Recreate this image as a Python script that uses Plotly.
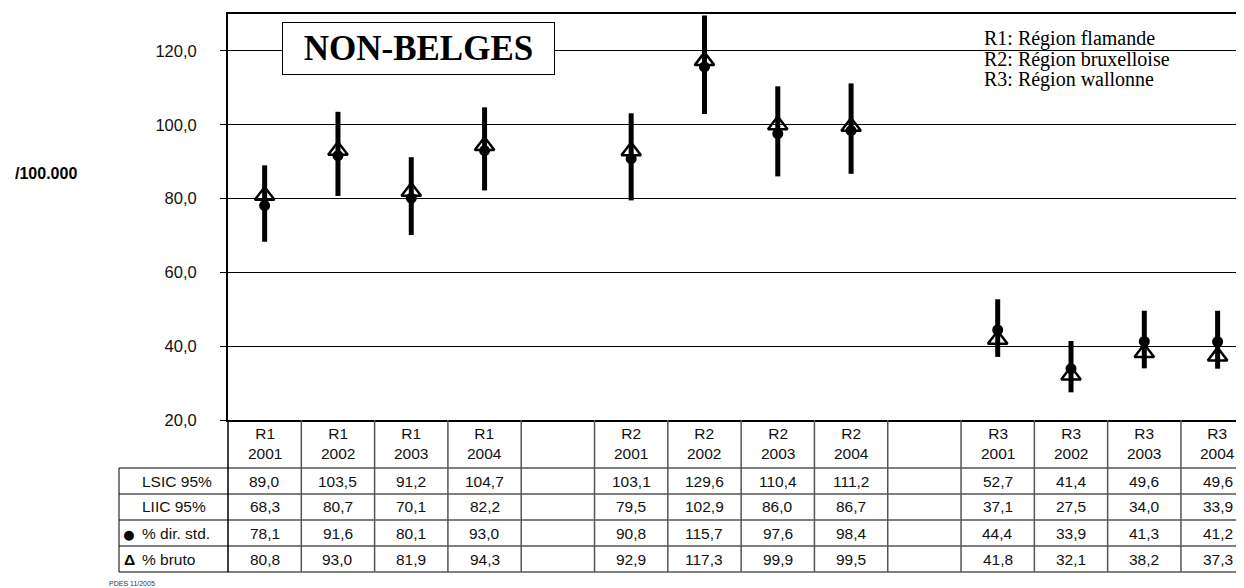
import plotly.graph_objects as go

# ---------------- data ----------------
regions = ["R1", "R1", "R1", "R1", "R2", "R2", "R2", "R2", "R3", "R3", "R3", "R3"]
years = ["2001", "2002", "2003", "2004"] * 3
lsic = [89.0, 103.5, 91.2, 104.7, 103.1, 129.6, 110.4, 111.2, 52.7, 41.4, 49.6, 49.6]
liic = [68.3, 80.7, 70.1, 82.2, 79.5, 102.9, 86.0, 86.7, 37.1, 27.5, 34.0, 33.9]
dir_std = [78.1, 91.6, 80.1, 93.0, 90.8, 115.7, 97.6, 98.4, 44.4, 33.9, 41.3, 41.2]
bruto = [80.8, 93.0, 81.9, 94.3, 92.9, 117.3, 99.9, 99.5, 41.8, 32.1, 38.2, 37.3]
row_labels = ["LSIC 95%", "LIIC 95%", "% dir. std.", "% bruto"]
row_keys = ["", "", "●", "<b>Δ</b>"]
legend_lines = ["R1: Région flamande", "R2: Région bruxelloise", "R3: Région wallonne"]
title_text = "NON-BELGES"
unit_text = "/100.000"
footer_text = "PDES 11/2005"

cats = [f"{r} {y}" for r, y in zip(regions, years)]
slots = cats[0:4] + ["sep1"] + cats[4:8] + ["sep2"] + cats[8:12]

# ---------------- geometry (screen pixel -> paper) ----------------
OFF = 8                      # default page body margin
W, H = 1244 - OFF, 588 - OFF
ML, MR, MT, MB = 228 - OFF, 0, 14 - OFF, 168
PW, PH = W - ML - MR, H - MT - MB


def px(xs):
    return (xs - OFF - ML) / PW


def py(ys):
    return (H - MB - (ys - OFF)) / PH


def fmt(v):
    return f"{v:.1f}".replace(".", ",")


fig = go.Figure()

# confidence interval bars
fig.add_trace(go.Scatter(
    x=cats, y=dir_std, mode="markers",
    marker=dict(size=1, opacity=0, color="black"),
    error_y=dict(type="data", symmetric=False,
                 array=[h - m for h, m in zip(lsic, dir_std)],
                 arrayminus=[m - l for m, l in zip(dir_std, liic)],
                 color="black", thickness=5, width=0),
    showlegend=False, hoverinfo="skip",
))
# crude rate (open triangle)
fig.add_trace(go.Scatter(
    x=cats, y=bruto, mode="markers",
    marker=dict(symbol="triangle-up-open", size=17, color="black",
                line=dict(width=2.5, color="black")),
    showlegend=False, name="% bruto",
))
# directly standardised (filled dot)
fig.add_trace(go.Scatter(
    x=cats, y=dir_std, mode="markers",
    marker=dict(symbol="circle", size=11, color="black"),
    showlegend=False, name="% dir. std.",
))

shapes = []
annotations = []

# ---------------- table ----------------
row_bounds = [420, 468, 494, 520, 546, 572]
row_centers = [481, 507, 533, 559]

for yb in row_bounds[1:]:
    shapes.append(dict(type="line", xref="paper", yref="paper",
                       x0=px(119), x1=1.0, y0=py(yb), y1=py(yb),
                       line=dict(color="black", width=1)))
shapes.append(dict(type="line", xref="paper", yref="paper",
                   x0=px(119), x1=px(119), y0=py(468), y1=py(572),
                   line=dict(color="black", width=1)))
shapes.append(dict(type="line", xref="paper", yref="paper",
                   x0=0, x1=0, y0=py(420), y1=py(572),
                   line=dict(color="black", width=1.5)))
for i in range(len(slots)):
    shapes.append(dict(type="line", xref="x", yref="paper",
                       x0=i + 0.5, x1=i + 0.5, y0=py(420), y1=py(572),
                       line=dict(color="#555555", width=1.5)))

tfont = dict(family="Liberation Sans, Arial, sans-serif", size=15.5, color="#111111")

for r, y, c in zip(regions, years, cats):
    annotations.append(dict(x=c, y=py(444), xref="x", yref="paper",
                            text=f"{r}<br>{y}", showarrow=False, font=tfont,
                            xanchor="center", yanchor="middle", align="center"))

for rows, yc in zip([lsic, liic, dir_std, bruto], row_centers):
    for v, c in zip(rows, cats):
        annotations.append(dict(x=c, y=py(yc), xref="x", yref="paper",
                                text=fmt(v), showarrow=False, font=tfont,
                                xanchor="center", yanchor="middle"))

for lab, key, yc in zip(row_labels, row_keys, row_centers):
    annotations.append(dict(x=px(140), y=py(yc), xref="paper", yref="paper",
                            text=lab, showarrow=False, font=tfont,
                            xanchor="left", yanchor="middle"))
    if key:
        ksize = 23 if key == "●" else 15.5
        annotations.append(dict(x=px(129), y=py(yc + 0.5), xref="paper", yref="paper",
                                text=key, showarrow=False,
                                font=dict(family="Liberation Sans, Arial, sans-serif",
                                          size=ksize, color="black"),
                                xanchor="center", yanchor="middle"))

# ---------------- title box ----------------
annotations.append(dict(x=px(418.5), y=py(48.5), xref="paper", yref="paper",
                        text=f"<b>{title_text}</b>", showarrow=False,
                        font=dict(family="Liberation Serif, Times New Roman, serif",
                                  size=35, color="black"),
                        width=269, height=49, bgcolor="white",
                        bordercolor="black", borderwidth=1, borderpad=1,
                        xanchor="center", yanchor="middle", align="center"))

for line, yc in zip(legend_lines, [38.5, 59, 79.5]):
    annotations.append(dict(x=px(982), y=py(yc), xref="paper", yref="paper",
                            text=line, showarrow=False,
                            font=dict(family="Liberation Serif, Times New Roman, serif",
                                      size=20, color="black"),
                            xanchor="left", yanchor="middle"))

annotations.append(dict(x=px(13), y=py(173), xref="paper", yref="paper",
                        text=f"<b>{unit_text}</b>", showarrow=False,
                        font=dict(family="Liberation Sans, Arial, sans-serif",
                                  size=16, color="black"),
                        xanchor="left", yanchor="middle"))

annotations.append(dict(x=px(107), y=py(583), xref="paper", yref="paper",
                        text=footer_text, showarrow=False,
                        font=dict(family="Liberation Sans, Arial, sans-serif",
                                  size=7, color="#333333"),
                        xanchor="left", yanchor="middle"))

fig.update_layout(
    width=W, height=H,
    margin=dict(l=ML, r=MR, t=MT, b=MB, pad=0),
    paper_bgcolor="white", plot_bgcolor="white",
    separators=",.",
    showlegend=False,
    shapes=shapes,
    annotations=annotations,
    xaxis=dict(type="category", categoryorder="array", categoryarray=slots,
               range=[-0.5, 13.36], showticklabels=False, ticks="",
               showgrid=False, zeroline=False,
               showline=True, linecolor="black", linewidth=2, mirror=True),
    yaxis=dict(range=[20, 130], tick0=20, dtick=20, tickformat=".1f",
               showgrid=True, gridcolor="black", gridwidth=1, zeroline=False,
               showline=True, linecolor="black", linewidth=2,
               ticks="outside", ticklen=6, tickcolor="black", tickwidth=1,
               ticklabelstandoff=20,
               tickfont=dict(family="Liberation Sans, Arial, sans-serif",
                             size=16.5, color="#111111")),
)

fig.write_html("out.html")
